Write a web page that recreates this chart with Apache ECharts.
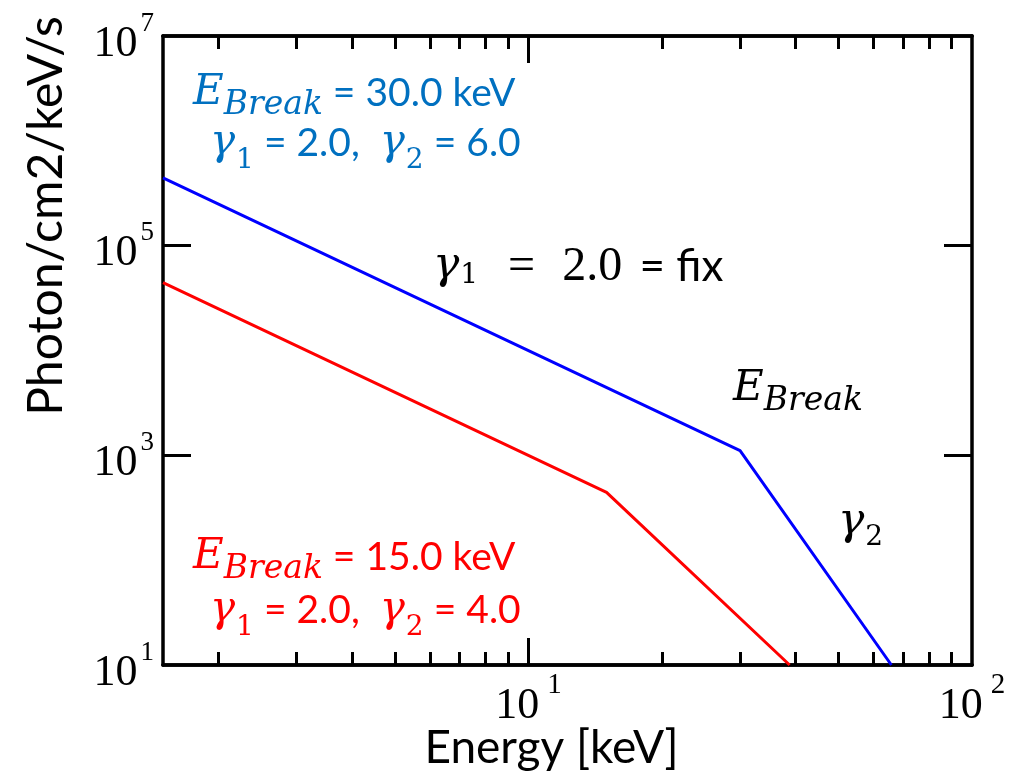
<!DOCTYPE html>
<html>
<head>
<meta charset="utf-8">
<script src="https://cdn.jsdelivr.net/npm/echarts@6/dist/echarts.min.js"></script>
<style>
  html, body { margin: 0; padding: 0; background: #fff; }
  #chart { width: 1019px; height: 775px; }
</style>
</head>
<body>
<div id="chart"></div>
<script>
// Broken power-law spectra: vertices of each segment (energy in keV, flux)
const blueEnergy = [1.5, 30, 65.8];
const blueFlux = [4.44e5, 1.11e3, 10];
const redEnergy = [1.5, 15, 38.8];
const redFlux = [4.44e4, 444, 10];

// Tick positions and labels
const xMinorTicks = [2, 3, 4, 5, 6, 7, 8, 9, 20, 30, 40, 50, 60, 70, 80, 90];
const xMajorTicks = [10];
const xTickLabels = [10, 100];
const yMajorTicks = [1e3, 1e5];
const yTickLabels = [10, 1e3, 1e5, 1e7];

const MATH = "'DejaVu Serif'";
const NUM = "'Liberation Serif'";
const SANS = 'Lato';
const BLUE_TXT = '#0070c0';
const RED_TXT = '#ff0000';

const chart = echarts.init(document.getElementById('chart'), null, { renderer: 'canvas' });

const frameLine = { show: true, onZero: false, lineStyle: { color: '#000', width: 3.5 } };
const tickLine = { color: '#000', width: 3 };

function expLabel(v, sup) {
  return '{b|10}{' + sup + '|' + Math.round(Math.log10(v)) + '}';
}
const tickRich = {
  b: { fontFamily: NUM, fontSize: 44, color: '#000', padding: [16, 0, 0, 0] },
  sy: { fontFamily: NUM, fontSize: 27, color: '#000', verticalAlign: 'top', padding: [4, 0, 0, 3] },
  sx: { fontFamily: NUM, fontSize: 29, color: '#000', verticalAlign: 'top', padding: [3, 0, 0, 8] }
};

function xAxisDef(position, ticks, len, withLabels) {
  const ax = {
    type: 'log', logBase: 10, min: 1.5, max: 100, position: position,
    axisLine: frameLine,
    axisTick: { show: true, inside: true, length: len, customValues: ticks, lineStyle: tickLine },
    axisLabel: { show: false },
    splitLine: { show: false }
  };
  if (withLabels) {
    ax.axisLabel = {
      show: true, customValues: xTickLabels, margin: 3,
      formatter: v => expLabel(v, 'sx'), rich: tickRich
    };
    ax.name = 'Energy [keV]';
    ax.nameLocation = 'middle';
    ax.nameGap = 60;
    ax.nameMoveOverlap = false;
    ax.nameTextStyle = { fontFamily: SANS, fontSize: 46, color: '#000', padding: [0, 32, 0, 0] };
  }
  return ax;
}

function yAxisDef(position, withLabels) {
  const ax = {
    type: 'log', logBase: 10, min: 10, max: 1e7, position: position,
    axisLine: frameLine,
    axisTick: { show: true, inside: true, length: 28, customValues: yMajorTicks, lineStyle: tickLine },
    axisLabel: { show: false },
    splitLine: { show: false }
  };
  if (withLabels) {
    ax.axisLabel = {
      show: true, customValues: yTickLabels, margin: 9,
      formatter: v => expLabel(v, 'sy'), rich: tickRich
    };
  }
  return ax;
}

// Rich text styles for the annotations (zrender style names)
function annRich(color) {
  return {
    E: { fontFamily: MATH, fontStyle: 'italic', fontSize: 42, lineHeight: 50, fill: color },
    B: { fontFamily: MATH, fontStyle: 'italic', fontSize: 33, lineHeight: 50, padding: [24, 0, 0, 0], fill: color },
    g: { fontFamily: MATH, fontStyle: 'italic', fontSize: 42, lineHeight: 50, fill: color },
    n: { fontFamily: MATH, fontSize: 28, lineHeight: 50, padding: [35, 0, 0, 1], fill: color },
    t: { fontFamily: SANS, fontSize: 39, lineHeight: 50, fill: color }
  };
}
function annText(x, y, text, color) {
  return {
    type: 'text', x: x, y: y, z: 10,
    style: { text: text, rich: annRich(color), align: 'left', verticalAlign: 'top' }
  };
}

const option = {
  animation: false,
  backgroundColor: '#fff',
  grid: { left: 163, right: 47, top: 36, bottom: 110, containLabel: false, outerBoundsMode: 'none' },
  xAxis: [
    xAxisDef('bottom', xMinorTicks, 13, true),
    xAxisDef('bottom', xMajorTicks, 27, false),
    xAxisDef('top', xMinorTicks, 13, false),
    xAxisDef('top', xMajorTicks, 27, false)
  ],
  yAxis: [
    yAxisDef('left', true),
    yAxisDef('right', false)
  ],
  series: [
    {
      name: 'E_Break = 30.0 keV', type: 'line', xAxisIndex: 0, yAxisIndex: 0,
      data: blueEnergy.map((e, i) => [e, blueFlux[i]]),
      symbol: 'none', clip: true,
      lineStyle: { color: '#0000ff', width: 3 }, itemStyle: { color: '#0000ff' }
    },
    {
      name: 'E_Break = 15.0 keV', type: 'line', xAxisIndex: 0, yAxisIndex: 0,
      data: redEnergy.map((e, i) => [e, redFlux[i]]),
      symbol: 'none', clip: true,
      lineStyle: { color: '#ff0000', width: 3 }, itemStyle: { color: '#ff0000' }
    }
  ],
  graphic: [
    {
      type: 'text', x: 47, y: 216, rotation: Math.PI / 2,
      style: { text: 'Photon/cm2/keV/s', fontFamily: SANS, fontSize: 48, fill: '#000', align: 'center', verticalAlign: 'middle' }
    },
    annText(193, 68, '{E|E}{B|Break}{t| = 30.0 keV}', BLUE_TXT),
    annText(210, 118, '{g|γ}{n|1}{t| = 2.0,  }{g|γ}{n|2}{t| = 6.0}', BLUE_TXT),
    annText(193, 532, '{E|E}{B|Break}{t| = 15.0 keV}', RED_TXT),
    annText(210, 585, '{g|γ}{n|1}{t| = 2.0,  }{g|γ}{n|2}{t| = 4.0}', RED_TXT),
    {
      type: 'text', x: 433, y: 239, z: 10,
      style: {
        text: '{g|γ}{n|1}{m|=}{d|2.0}{t| = fix}', align: 'left', verticalAlign: 'top',
        rich: {
          g: { fontFamily: MATH, fontStyle: 'italic', fontSize: 44, lineHeight: 56, fill: '#000' },
          n: { fontFamily: MATH, fontSize: 28, lineHeight: 56, padding: [17, 0, 0, 1], fill: '#000' },
          m: { fontFamily: NUM, fontSize: 48, lineHeight: 56, padding: [0, 0, 0, 30], fill: '#000' },
          d: { fontFamily: NUM, fontSize: 48, lineHeight: 56, padding: [0, 0, 0, 27], fill: '#000' },
          t: { fontFamily: SANS, fontSize: 44, lineHeight: 56, padding: [0, 0, 0, 6], fill: '#000' }
        }
      }
    },
    annText(733, 364, '{E|E}{B|Break}', '#000'),
    {
      type: 'text', x: 838, y: 495, z: 10,
      style: {
        text: '{g|γ}{n|2}', align: 'left', verticalAlign: 'top',
        rich: {
          g: { fontFamily: MATH, fontStyle: 'italic', fontSize: 44, lineHeight: 56, fill: '#000' },
          n: { fontFamily: MATH, fontSize: 28, lineHeight: 56, padding: [30, 0, 0, 1], fill: '#000' }
        }
      }
    }
  ]
};

chart.setOption(option);
</script>
</body>
</html>
